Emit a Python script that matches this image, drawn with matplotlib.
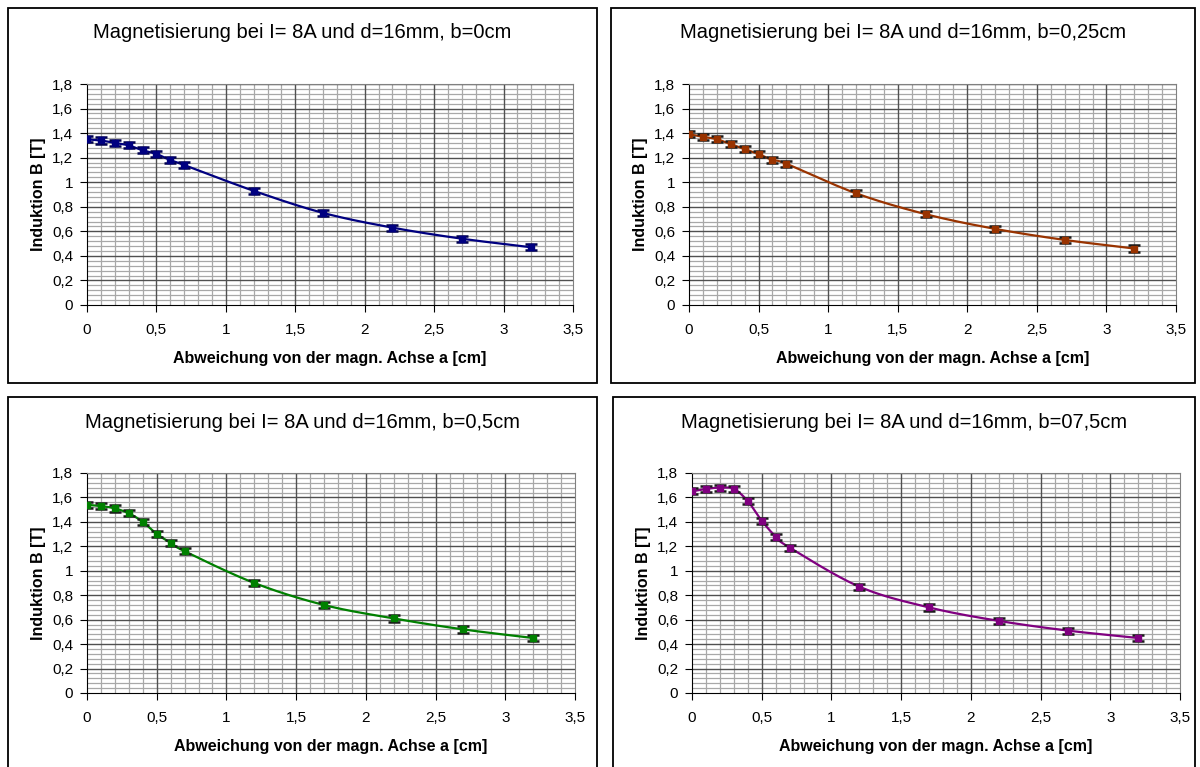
import numpy as np
import matplotlib
matplotlib.use("Agg")
import matplotlib.pyplot as plt
from matplotlib.patches import Rectangle
from matplotlib.ticker import MultipleLocator, FixedLocator, FuncFormatter

plt.rcParams['font.family'] = ['Liberation Sans', 'DejaVu Sans']

x_cm = [0, 0.1, 0.2, 0.3, 0.4, 0.5, 0.6, 0.7, 1.2, 1.7, 2.2, 2.7, 3.2]
b_0 = [1.35, 1.34, 1.32, 1.30, 1.26, 1.23, 1.18, 1.14, 0.93, 0.75, 0.63, 0.54, 0.47]
b_025 = [1.39, 1.37, 1.35, 1.31, 1.27, 1.23, 1.18, 1.15, 0.91, 0.74, 0.62, 0.53, 0.46]
b_05 = [1.54, 1.53, 1.51, 1.47, 1.40, 1.30, 1.23, 1.16, 0.90, 0.72, 0.61, 0.52, 0.45]
b_075 = [1.65, 1.67, 1.68, 1.67, 1.57, 1.41, 1.28, 1.19, 0.87, 0.70, 0.59, 0.51, 0.45]
err = 0.025

titles = ["Magnetisierung bei I= 8A und d=16mm, b=0cm",
          "Magnetisierung bei I= 8A und d=16mm, b=0,25cm",
          "Magnetisierung bei I= 8A und d=16mm, b=0,5cm",
          "Magnetisierung bei I= 8A und d=16mm, b=07,5cm"]
series = [b_0, b_025, b_05, b_075]
colors = ["#000080", "#993300", "#008000", "#800080"]
cap_colors = ["#000050", "#1a1a1a", "#1a1a1a", "#1a1a1a"]
xlabel = "Abweichung von der magn. Achse a [cm]"
ylabel = "Induktion B [T]"

W, H = 1200, 767
fig = plt.figure(figsize=(W / 100, H / 100), dpi=100)

def smooth(xs, ys, n=20):
    xs = np.asarray(xs, float); ys = np.asarray(ys, float)
    px = np.concatenate([[2 * xs[0] - xs[1]], xs, [2 * xs[-1] - xs[-2]]])
    py = np.concatenate([[2 * ys[0] - ys[1]], ys, [2 * ys[-1] - ys[-2]]])
    ox, oy = [], []
    for i in range(1, len(px) - 2):
        p0, p1, p2, p3 = [np.array([px[j], py[j]]) for j in (i - 1, i, i + 1, i + 2)]
        c1 = p1 + (p2 - p0) / 6.0
        c2 = p2 - (p3 - p1) / 6.0
        t = np.linspace(0, 1, n)[:, None]
        pts = (1 - t) ** 3 * p1 + 3 * (1 - t) ** 2 * t * c1 + 3 * (1 - t) * t ** 2 * c2 + t ** 3 * p2
        ox.extend(pts[:, 0]); oy.extend(pts[:, 1])
    return ox, oy

x_major = [i * 0.5 for i in range(8)]
y_major = [i * 0.2 for i in range(10)]
x_minor = [i * 0.1 for i in range(36) if i % 5 != 0]
y_minor = [i * 0.04 for i in range(46) if i % 5 != 0]

# panel boxes (pixels): left, top, right, bottom
boxes = [(8, 8, 597, 383), (611, 8, 1195, 383), (8, 397, 597, 780), (613, 397, 1195, 780)]
axes_px = [(87, 84, 573, 305), (689, 84, 1176, 305), (87, 473, 575, 693), (692, 473, 1180, 693)]
title_y = [33, 33, 422, 422]

fmt = FuncFormatter(lambda v, p: ("%g" % round(v, 2)).replace(".", ","))

for k in range(4):
    l, t, r, b = boxes[k]
    fig.patches.append(Rectangle((l / W, 1 - b / H), (r - l) / W, (b - t) / H,
                                 transform=fig.transFigure, fill=False,
                                 edgecolor="black", linewidth=1.3))
    al, at, ar, ab = axes_px[k]
    ax = fig.add_axes([al / W, 1 - ab / H, (ar - al) / W, (ab - at) / H])
    ax.set_xlim(0, 3.5)
    ax.set_ylim(0, 1.8)
    ax.xaxis.set_major_locator(FixedLocator(x_major))
    ax.xaxis.set_minor_locator(FixedLocator(x_minor))
    ax.yaxis.set_major_locator(FixedLocator(y_major))
    ax.yaxis.set_minor_locator(FixedLocator(y_minor))
    ax.xaxis.set_major_formatter(fmt)
    ax.yaxis.set_major_formatter(fmt)
    ax.grid(which="minor", color="#a8a8a8", linewidth=0.9)
    ax.set_axisbelow(True)
    for v in x_major[1:-1]:
        ax.axvline(v, color="#505050", linewidth=1.0, zorder=1)
    for v in y_major[1:]:
        ax.axhline(v, color="#505050", linewidth=1.0, zorder=1)
    ax.tick_params(which="minor", length=0)
    ax.tick_params(axis="y", which="major", length=5, labelsize=11, color="black", pad=5)
    ax.tick_params(axis="x", which="major", length=5, labelsize=11, color="black", pad=8)
    ax.spines["top"].set_color("#808080")
    ax.spines["right"].set_color("#808080")
    for s in ("left", "bottom"):
        ax.spines[s].set_color("black")
    sx, sy = smooth(x_cm, series[k])
    ax.plot(sx, sy, color=colors[k], linewidth=1.6, zorder=3)
    ax.errorbar(x_cm, series[k], yerr=err, fmt="s", markersize=4, color=colors[k],
                ecolor=cap_colors[k], elinewidth=1.2, capsize=4, capthick=1.8, zorder=4)
    ax.set_xlabel(xlabel, fontsize=11.5, fontweight="bold", labelpad=10)
    ax.set_ylabel(ylabel, fontsize=11.5, fontweight="bold", labelpad=4)
    fig.text(((l + r) / 2) / W, 1 - title_y[k] / H, titles[k], ha="center", va="center",
             fontsize=14.5)

fig.savefig("out.png", dpi=100)
